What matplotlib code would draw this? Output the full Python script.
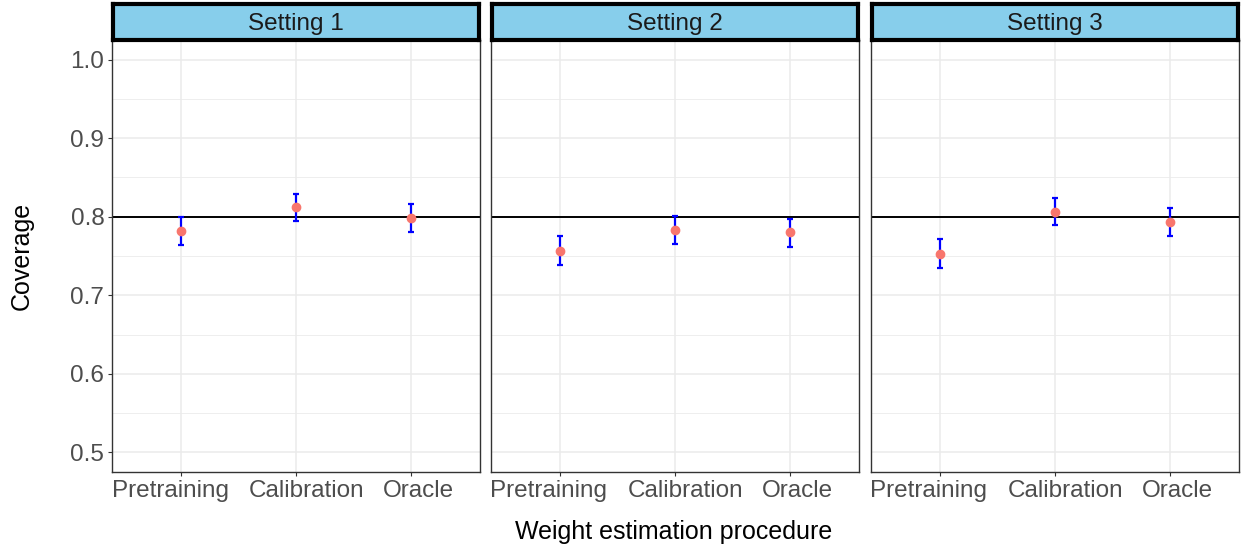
import numpy as np
import matplotlib.pyplot as plt
from matplotlib.ticker import MultipleLocator
from matplotlib.transforms import ScaledTranslation

plt.rcParams['font.family'] = ['Liberation Sans', 'DejaVu Sans']

# Datos
settings = ['Setting 1', 'Setting 2', 'Setting 3']
methods = ['Pretraining', 'Calibration', 'Oracle']
coverage = [
    [0.782, 0.812, 0.798],
    [0.757, 0.783, 0.780],
    [0.753, 0.806, 0.793],
]
lower = [
    [0.764, 0.795, 0.781],
    [0.738, 0.765, 0.762],
    [0.735, 0.789, 0.775],
]
upper = [
    [0.800, 0.829, 0.816],
    [0.776, 0.801, 0.797],
    [0.772, 0.824, 0.811],
]
target = 0.8

W, H = 1242, 548
fig = plt.figure(figsize=(W / 100, H / 100), dpi=100)

lefts = [112, 491, 871]
pw = 368
top, bottom = 40, 472
# desplazamiento horizontal de las etiquetas (px), como en el original
label_shift = [-11, 11, 7]

for k, name in enumerate(settings):
    ax = fig.add_axes([lefts[k] / W, 1 - bottom / H, pw / W, (bottom - top) / H])
    x = np.arange(1, len(methods) + 1)
    cov = np.array(coverage[k])
    lo = np.array(lower[k])
    hi = np.array(upper[k])

    ax.axhline(target, color='black', lw=1.4, zorder=2)
    ax.errorbar(x, cov, yerr=[cov - lo, hi - cov], fmt='none', ecolor='blue',
                elinewidth=1.6, capsize=2.3, capthick=1.6, zorder=3)
    ax.plot(x, cov, 'o', color='#F8766D', ms=6, zorder=4)

    ax.set_xlim(0.4, 3.6)
    ax.set_ylim(0.475, 1.025)
    ax.set_xticks(x)
    ax.set_xticklabels(methods)
    ax.yaxis.set_major_locator(MultipleLocator(0.1))
    ax.yaxis.set_minor_locator(MultipleLocator(0.05))
    ax.grid(True, which='major', color='#EBEBEB', lw=1.1)
    ax.grid(True, which='minor', axis='y', color='#EBEBEB', lw=0.6)
    ax.set_axisbelow(True)
    ax.tick_params(which='minor', length=0)
    ax.tick_params(which='major', length=3, color='#333333', labelsize=17.5,
                   labelcolor='#4D4D4D', pad=2.5)
    for lab, dx in zip(ax.get_xticklabels(), label_shift):
        lab.set_transform(lab.get_transform() +
                          ScaledTranslation(dx / 100, 0, fig.dpi_scale_trans))
    for s in ax.spines.values():
        s.set_color('#333333')
        s.set_linewidth(1.0)
    if k == 0:
        ax.set_yticklabels([f'{v:.1f}' for v in ax.get_yticks()])
    else:
        ax.tick_params(axis='y', labelleft=False, length=0)

    # Tira del panel
    sax = fig.add_axes([(lefts[k] + 1) / W, 1 - 40 / H, (pw - 2) / W, 36 / H])
    sax.set_facecolor('#87CEEB')
    sax.set_xticks([])
    sax.set_yticks([])
    for s in sax.spines.values():
        s.set_color('black')
        s.set_linewidth(3)
    sax.text(0.5, 0.45, name, ha='center', va='center', fontsize=17.5,
             color='#1A1A1A', transform=sax.transAxes)

fig.text(22 / W, 1 - 256 / H, 'Coverage', rotation=90, ha='center', va='center',
         fontsize=18)
fig.text(674 / W, 1 - 532 / H, 'Weight estimation procedure', ha='center',
         va='center', fontsize=18)

fig.savefig('out.png', dpi=100)
